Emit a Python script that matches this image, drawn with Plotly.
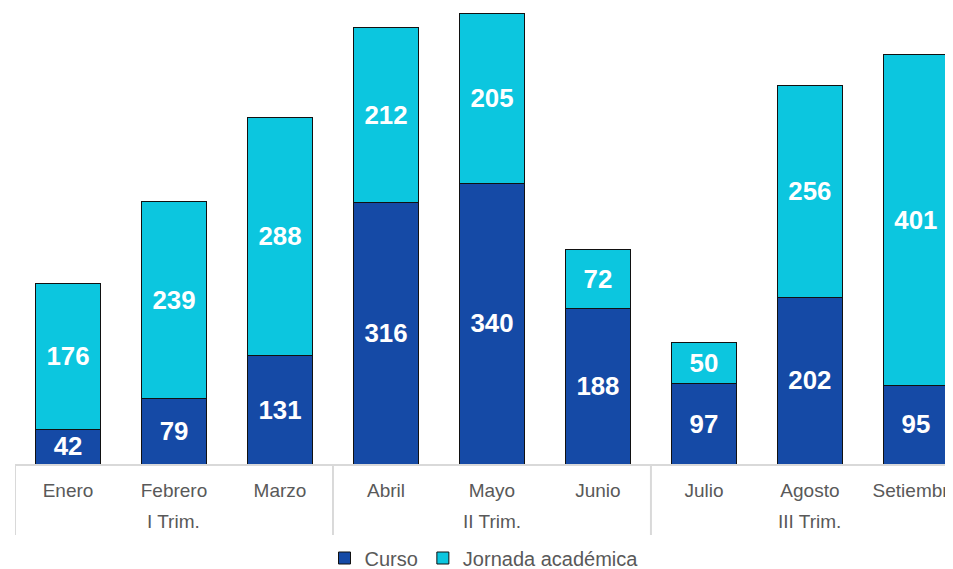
import plotly.graph_objects as go

## DATA
trimestres = ["I Trim.", "I Trim.", "I Trim.",
              "II Trim.", "II Trim.", "II Trim.",
              "III Trim.", "III Trim.", "III Trim."]
meses = ["Enero", "Febrero", "Marzo", "Abril", "Mayo", "Junio",
         "Julio", "Agosto", "Setiembre"]
curso = [42, 79, 131, 316, 340, 188, 97, 202, 95]
jornada = [176, 239, 288, 212, 205, 72, 50, 256, 401]

FONT = "Liberation Sans, Arial"
GRIS = "#D9D9D9"
PLOT_H = 456  # plot area height in px

## PLOT
fig = go.Figure()

for vals, nombre, color in [(curso, "Curso", "#154AA6"),
                            (jornada, "Jornada académica", "#0CC6DF")]:
    fig.add_trace(go.Bar(
        x=meses, y=vals, name=nombre,
        marker=dict(color=color, line=dict(color="#111111", width=1)),
        text=vals, textposition="inside", insidetextanchor="middle",
        textfont=dict(family=FONT, size=27, color="white"),
        texttemplate="<b>%{text}</b>",
    ))

# group limits (quarters) -> divider lines and group labels
limites = [-0.5]
centros = {}
for i, t in enumerate(trimestres):
    centros.setdefault(t, []).append(i)
    if i > 0 and t != trimestres[i - 1]:
        limites.append(i - 0.5)
limites.append(len(meses) - 0.5)

for xv in limites:
    fig.add_shape(type="line", xref="x", yref="paper", x0=xv, x1=xv,
                  y0=0, y1=-71 / PLOT_H, line=dict(color=GRIS, width=2))

for t, idx in centros.items():
    fig.add_annotation(x=sum(idx) / len(idx), xref="x", y=-57 / PLOT_H, yref="paper",
                       text=t, showarrow=False, yanchor="middle",
                       font=dict(family=FONT, size=19, color="#595959"))

fig.update_layout(
    barmode="stack",
    bargap=0.38,
    width=945, height=569,
    margin=dict(l=7, r=0, t=0, b=569 - PLOT_H, autoexpand=False),
    plot_bgcolor="white", paper_bgcolor="white",
    font=dict(family=FONT, size=19, color="#595959"),
    uniformtext=dict(mode="show", minsize=10),
    legend=dict(orientation="h", x=0.5, xanchor="center",
                y=-94 / PLOT_H, yanchor="middle",
                font=dict(family=FONT, size=20, color="#595959"),
                itemwidth=30, traceorder="normal"),
    showlegend=True,
)

fig.update_xaxes(
    type="category", range=[-0.5, 8.35], automargin=False,
    showline=True, linecolor=GRIS, linewidth=2,
    ticks="", ticklabelstandoff=8,
    tickfont=dict(family=FONT, size=19, color="#595959"),
)
fig.update_yaxes(range=[0, 552], visible=False, showgrid=False, automargin=False)

fig.write_html("out.html")
